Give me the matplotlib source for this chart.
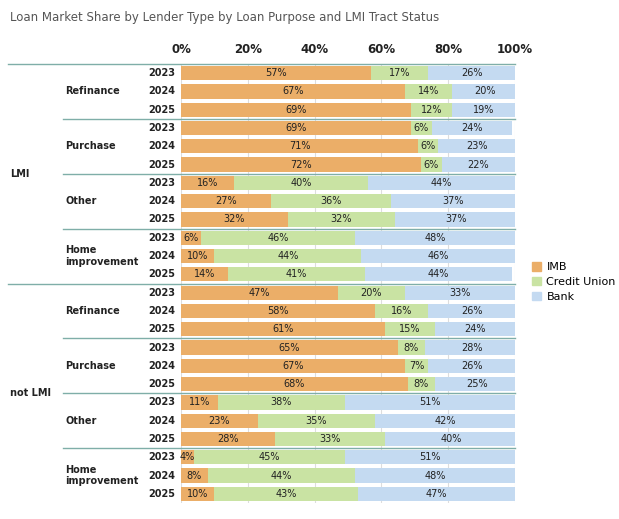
import matplotlib
matplotlib.use("Agg")
import matplotlib.pyplot as plt
from matplotlib.transforms import blended_transform_factory
from matplotlib.lines import Line2D
from matplotlib.patches import Rectangle

tracts = ["LMI", "not LMI"]
purposes = ["Refinance", "Purchase", "Other", "Home\nimprovement"]
years = ["2023", "2024", "2025"]
imb = [57, 67, 69, 69, 71, 72, 16, 27, 32, 6, 10, 14,
       47, 58, 61, 65, 67, 68, 11, 23, 28, 4, 8, 10]
cu = [17, 14, 12, 6, 6, 6, 40, 36, 32, 46, 44, 41,
      20, 16, 15, 8, 7, 8, 38, 35, 33, 45, 44, 43]
bank = [26, 20, 19, 24, 23, 22, 44, 37, 37, 48, 46, 44,
        33, 26, 24, 28, 26, 25, 51, 42, 40, 51, 48, 47]
series = [("IMB", imb, "#EBAE68"), ("Credit Union", cu, "#C9E3A3"), ("Bank", bank, "#C4DAF1")]

W, H = 619, 519
fig = plt.figure(figsize=(6.19, 5.19), dpi=100)
ax = fig.add_axes([181/W, 1-503/H, (515-181)/W, (503-64)/H])
n = len(imb)
ys = list(range(n))
left = [0]*n
for name, vals, col in series:
    ax.barh(ys, vals, left=left, height=0.78, color=col, label=name, zorder=2)
    for i, v in enumerate(vals):
        ax.text(left[i] + v/2, i, f"{v}%", ha="center", va="center", fontsize=7, color="#222", zorder=3)
    left = [a+b for a, b in zip(left, vals)]
ax.set_xlim(0, 100)
ax.set_ylim(n-0.5, -0.5)
ax.set_yticks([])
ax.xaxis.tick_top()
ax.set_xticks(range(0, 101, 20))
ax.set_xticklabels([f"{t}%" for t in range(0, 101, 20)], fontsize=8.5, fontweight="bold", color="#222")
ax.tick_params(axis="x", length=0, pad=6)
ax.grid(axis="x", color="#dddddd", lw=0.8, zorder=0)
for s in ax.spines.values():
    s.set_visible(False)

tr = blended_transform_factory(fig.transFigure, ax.transData)
for i in range(n):
    ax.text(175/W, i, years[i % 3], transform=tr, ha="right", va="center", fontsize=7, fontweight="bold", color="#222")
for g in range(8):
    ax.text(65/W, g*3 + 1, purposes[g % 4], transform=tr, ha="left", va="center", fontsize=7, fontweight="bold", color="#222", linespacing=1.2)
for t in range(2):
    ax.text(10/W, t*12 + 5.5, tracts[t], transform=tr, ha="left", va="center", fontsize=7, fontweight="bold", color="#222")
for b in range(0, n, 3):
    x0 = 8/W if b % 12 == 0 else 63/W
    ax.add_line(Line2D([x0, 515/W], [b-0.5, b-0.5], transform=tr, color="#7FAEA8", lw=1, clip_on=False))

fig.text(10/W, 1-18/H, "Loan Market Share by Lender Type by Loan Purpose and LMI Tract Status", fontsize=8.5, color="#555", va="center")
fig.legend(handles=[Rectangle((0, 0), 1, 1, color=c) for _, _, c in series], labels=[s[0] for s in series],
           loc="center left", bbox_to_anchor=(522/W, 1-282/H), frameon=False, fontsize=8,
           handlelength=0.8, handleheight=0.8, handletextpad=0.5, labelspacing=0.4)
fig.savefig("out.png", dpi=100, facecolor="white")
